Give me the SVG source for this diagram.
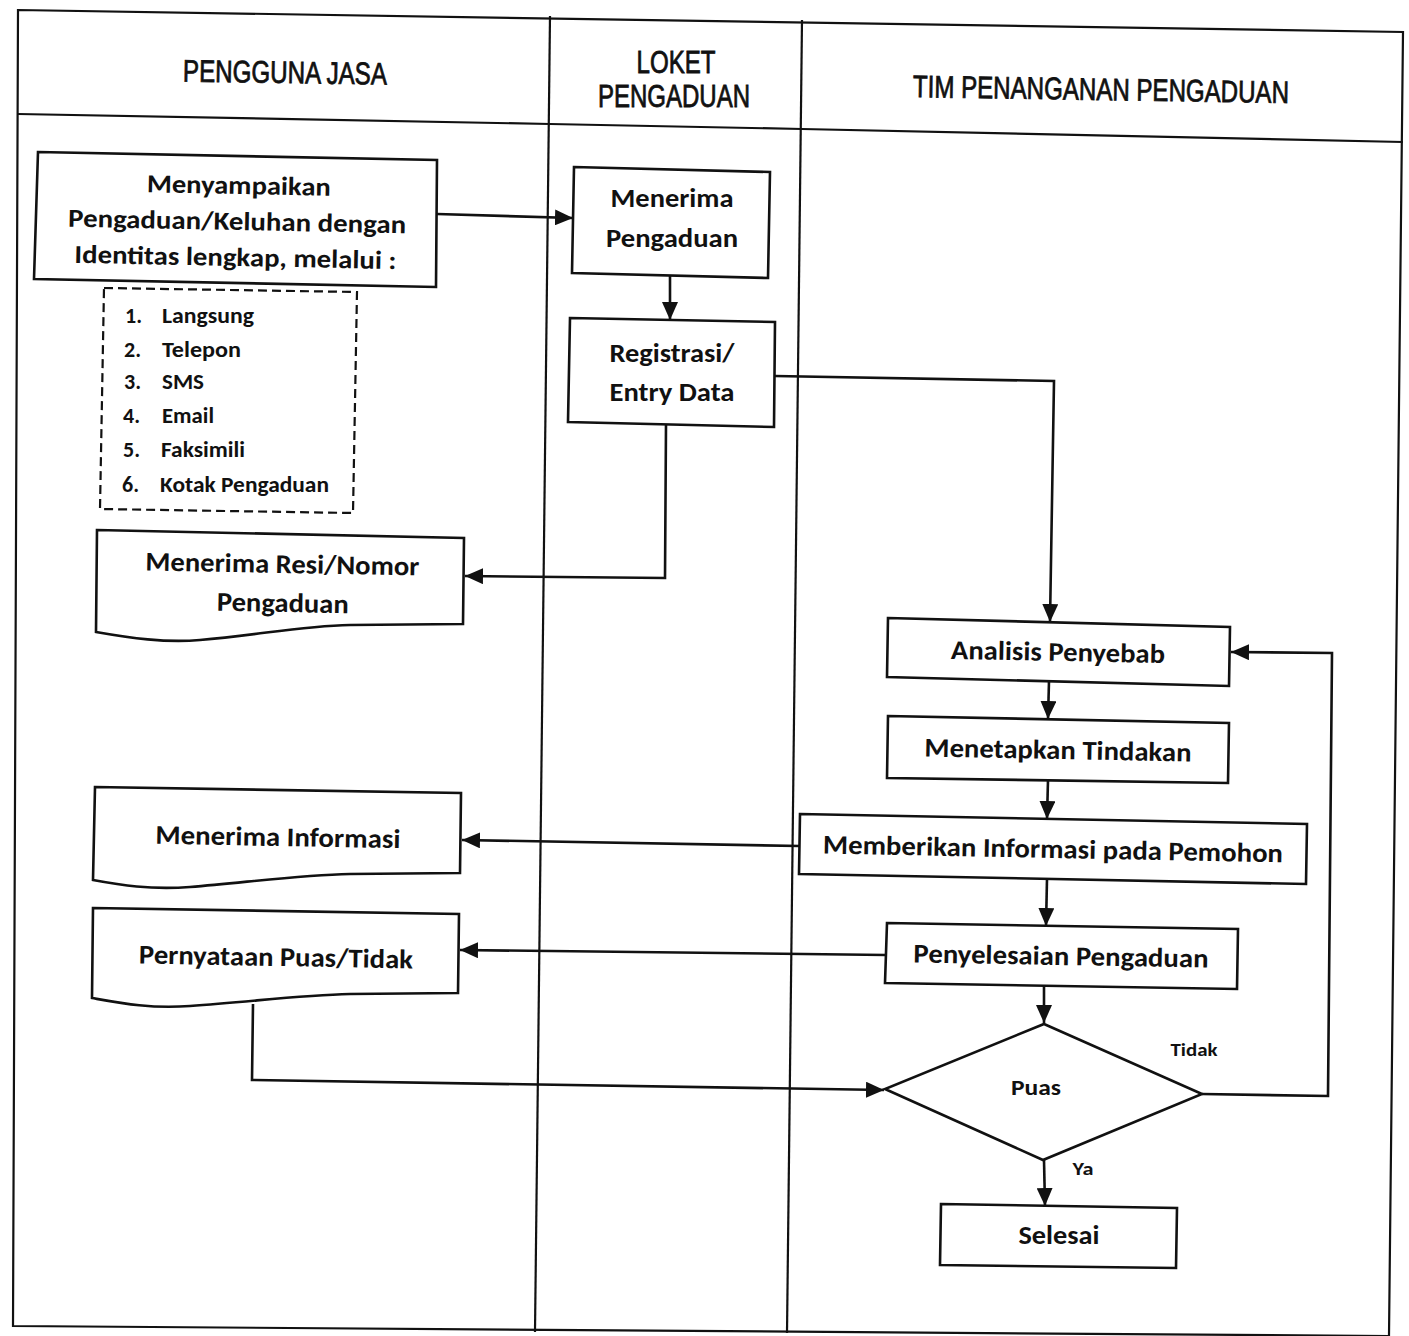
<svg xmlns="http://www.w3.org/2000/svg" width="1409" height="1336" viewBox="0 0 1409 1336">
<style>
.lane{fill:none;stroke:#111;stroke-width:2.2}
.box{fill:#fff;stroke:#111;stroke-width:2.6;stroke-linejoin:miter}
.dash{fill:none;stroke:#111;stroke-width:2.2;stroke-dasharray:9 5}
.conn{fill:none;stroke:#111;stroke-width:2.6;marker-end:url(#arr)}
.t{font-family:Carlito,Lato,"Open Sans",sans-serif;font-size:27px;fill:#111;text-anchor:middle;font-weight:600}
.s{font-family:Carlito,Lato,"Open Sans",sans-serif;font-size:22px;fill:#111;font-weight:600}
.l{font-family:Carlito,Lato,"Open Sans",sans-serif;font-size:18px;fill:#111;text-anchor:middle;font-weight:600}
.h{font-family:"Liberation Sans Narrow","Liberation Sans",Arial,sans-serif;font-size:31px;fill:#111;stroke:#111;stroke-width:0.8;text-anchor:middle}
</style>
<defs>
<marker id="arr" markerUnits="userSpaceOnUse" markerWidth="18" markerHeight="16" refX="18" refY="8" orient="auto">
<path d="M0,0 L18,8 L0,16 Z" fill="#111"/>
</marker>
</defs>
<rect width="1409" height="1336" fill="#fff"/>
<g id="lanes">
<path class="lane" d="M18,10 L1403,32 L1389,1336 L13,1326 Z"/>
<path class="lane" d="M18,114 L550,124 L802,129 L1403,142"/>
<path class="lane" d="M550,16 L535,1332"/>
<path class="lane" d="M802,20 L787,1333"/>
<text class="h" x="285" y="83" textLength="204" lengthAdjust="spacingAndGlyphs" transform="rotate(0.9 285 71)">PENGGUNA JASA</text>
<text class="h" x="676" y="73" textLength="79" lengthAdjust="spacingAndGlyphs">LOKET</text>
<text class="h" x="674" y="107" textLength="152" lengthAdjust="spacingAndGlyphs">PENGADUAN</text>
<text class="h" x="1101" y="100" textLength="376" lengthAdjust="spacingAndGlyphs" transform="rotate(0.9 1101 89)">TIM PENANGANAN PENGADUAN</text>
</g>
<g id="connectors">
<path class="conn" d="M437,214 L573,218"/>
<path class="conn" d="M670,276 L670,320"/>
<path class="conn" d="M775,376 L1054,381 L1050,622"/>
<path class="conn" d="M666,424 L665,578 L465,576"/>
<path class="conn" d="M1049,681 L1048,719"/>
<path class="conn" d="M1048,780 L1047,819"/>
<path class="conn" d="M800,846 L462,840"/>
<path class="conn" d="M1047,879 L1046,926"/>
<path class="conn" d="M886,955 L460,950"/>
<path class="conn" d="M1044,986 L1044,1023"/>
<path class="conn" d="M253,1004 L252,1080 L884,1090"/>
<path class="conn" d="M1202,1094 L1328,1096 L1332,653 L1231,652"/>
<path class="conn" d="M1044,1160 L1045,1206"/>
<text class="l" x="1194" y="1056" textLength="47" lengthAdjust="spacingAndGlyphs">Tidak</text>
<text class="l" x="1083" y="1175" textLength="21" lengthAdjust="spacingAndGlyphs">Ya</text>
</g>
<g id="n-menyampaikan">
<path class="box" d="M38,152 L437,160 L436,287 L34,279 Z"/>
<g transform="rotate(1.1 236 230)">
<text class="t" style="font-size:26px" x="238" y="194" textLength="184" lengthAdjust="spacingAndGlyphs">Menyampaikan</text>
<text class="t" style="font-size:26px" x="237" y="230" textLength="338" lengthAdjust="spacingAndGlyphs">Pengaduan/Keluhan dengan</text>
<text class="t" style="font-size:26px" x="236" y="266" textLength="322" lengthAdjust="spacingAndGlyphs">Identitas lengkap, melalui :</text>
</g>
</g>
<g id="n-list">
<path class="dash" d="M104,288 L357,292 L353,513 L100,509 Z"/>
<text class="s" x="125" y="323">1.</text><text class="s" x="162" y="323" textLength="92" lengthAdjust="spacingAndGlyphs">Langsung</text>
<text class="s" x="124" y="357">2.</text><text class="s" x="162" y="357" textLength="79" lengthAdjust="spacingAndGlyphs">Telepon</text>
<text class="s" x="124" y="389">3.</text><text class="s" x="162" y="389" textLength="42" lengthAdjust="spacingAndGlyphs">SMS</text>
<text class="s" x="123" y="423">4.</text><text class="s" x="162" y="423" textLength="52" lengthAdjust="spacingAndGlyphs">Email</text>
<text class="s" x="123" y="457">5.</text><text class="s" x="161" y="457" textLength="84" lengthAdjust="spacingAndGlyphs">Faksimili</text>
<text class="s" x="122" y="492">6.</text><text class="s" x="160" y="492" textLength="169" lengthAdjust="spacingAndGlyphs">Kotak Pengaduan</text>
</g>
<g id="n-menerima-pengaduan">
<path class="box" d="M574,167 L770,172 L768,278 L572,273 Z"/>
<text class="t" x="672" y="207" textLength="123" lengthAdjust="spacingAndGlyphs">Menerima</text>
<text class="t" x="672" y="247" textLength="132" lengthAdjust="spacingAndGlyphs">Pengaduan</text>
</g>
<g id="n-registrasi">
<path class="box" d="M570,318 L775,322 L774,427 L568,422 Z"/>
<text class="t" x="672" y="362" textLength="125" lengthAdjust="spacingAndGlyphs">Registrasi/</text>
<text class="t" x="672" y="401" textLength="125" lengthAdjust="spacingAndGlyphs">Entry Data</text>
</g>
<g id="n-resi">
<path class="box" d="M97,530 L464,538 L463,624 L350,625 C300,626 260,635 200,640 C165,643 130,638 96,632 Z"/>
<g transform="rotate(1 282 590)">
<text class="t" x="282" y="573" textLength="274" lengthAdjust="spacingAndGlyphs">Menerima Resi/Nomor</text>
<text class="t" x="283" y="612" textLength="132" lengthAdjust="spacingAndGlyphs">Pengaduan</text>
</g>
</g>
<g id="n-analisis">
<path class="box" d="M888,618 L1230,627 L1229,686 L887,677 Z"/>
<text class="t" x="1058" y="661" textLength="214" lengthAdjust="spacingAndGlyphs" transform="rotate(1.1 1058 652)">Analisis Penyebab</text>
</g>
<g id="n-menetapkan">
<path class="box" d="M888,716 L1229,723 L1228,783 L887,778 Z"/>
<text class="t" x="1058" y="759" textLength="267" lengthAdjust="spacingAndGlyphs" transform="rotate(1.1 1058 750)">Menetapkan Tindakan</text>
</g>
<g id="n-memberikan">
<path class="box" d="M800,814 L1307,824 L1306,884 L799,874 Z"/>
<text class="t" x="1053" y="858" textLength="460" lengthAdjust="spacingAndGlyphs" transform="rotate(1.1 1053 849)">Memberikan Informasi pada Pemohon</text>
</g>
<g id="n-penyelesaian">
<path class="box" d="M887,923 L1238,929 L1237,989 L885,983 Z"/>
<text class="t" x="1061" y="965" textLength="295" lengthAdjust="spacingAndGlyphs" transform="rotate(1 1061 956)">Penyelesaian Pengaduan</text>
</g>
<g id="n-puas">
<path class="box" d="M1044,1024 L1202,1094 L1043,1160 L885,1089 Z"/>
<text class="s" x="1036" y="1095" text-anchor="middle" textLength="50" lengthAdjust="spacingAndGlyphs">Puas</text>
</g>
<g id="n-selesai">
<path class="box" d="M941,1204 L1177,1208 L1176,1268 L940,1265 Z"/>
<text class="t" x="1059" y="1244" textLength="81" lengthAdjust="spacingAndGlyphs">Selesai</text>
</g>
<g id="n-menerima-informasi">
<path class="box" d="M95,787 L461,793 L460,873 L350,874 C300,875 250,882 190,887 C150,890 120,885 93,880 Z"/>
<text class="t" x="278" y="846" textLength="245" lengthAdjust="spacingAndGlyphs" transform="rotate(1 278 837)">Menerima Informasi</text>
</g>
<g id="n-pernyataan">
<path class="box" d="M93,908 L459,914 L458,993 L350,994 C300,995 250,1002 190,1006 C150,1009 120,1003 92,998 Z"/>
<text class="t" x="276" y="966" textLength="274" lengthAdjust="spacingAndGlyphs" transform="rotate(1 276 957)">Pernyataan Puas/Tidak</text>
</g>
</svg>
